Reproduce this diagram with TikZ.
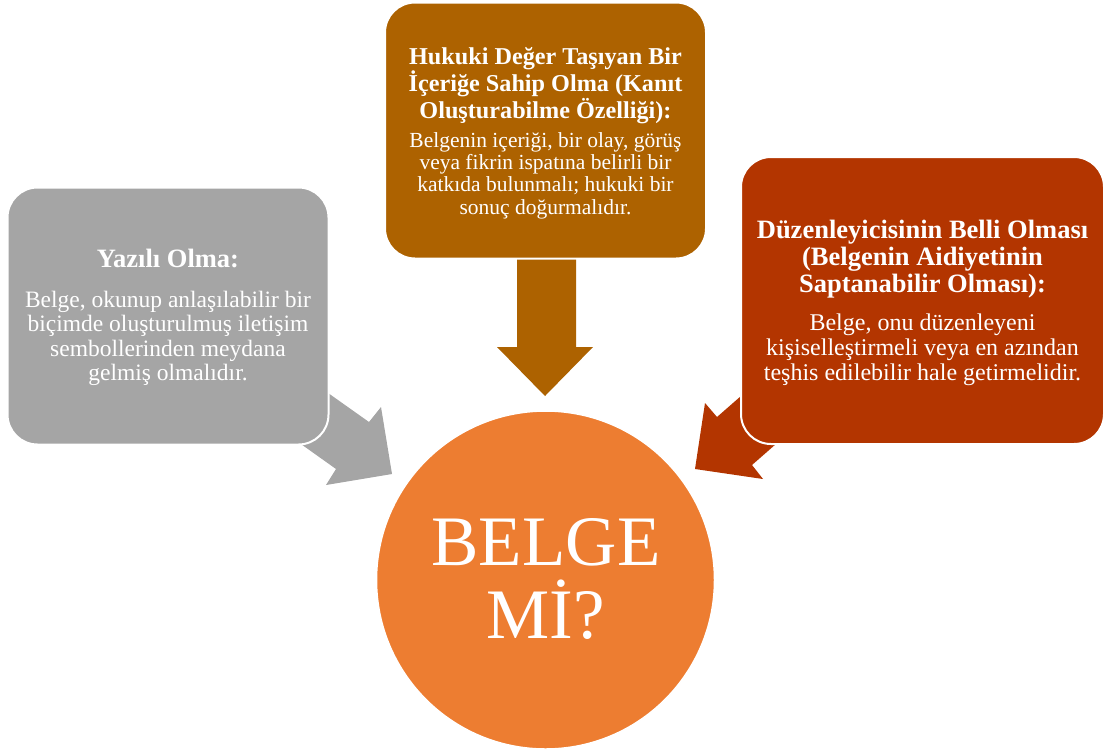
\documentclass[tikz,border=0pt]{standalone}
\usepackage{fontspec}
\setmainfont{Liberation Serif}
\definecolor{cgray}{HTML}{A5A5A5}
\definecolor{cbrown}{HTML}{AD6200}
\definecolor{cred}{HTML}{B33500}
\definecolor{corange}{HTML}{ED7D31}
\begin{document}
\begin{tikzpicture}[x=1pt,y=-1pt,
  card/.style={draw=white,line width=2pt,rounded corners=30pt,inner sep=0pt},
  ttl/.style={text=white,align=center,inner sep=0pt,anchor=north},
  blockarrow/.style={draw=none}]
\useasboundingbox (0,0) rectangle (1107,753);
% block arrows (behind the cards)
\fill[cgray,blockarrow] (290,366) -- (369,422) -- (381,407) -- (392,474) -- (326,485) -- (336,469) -- (270,422) -- cycle;
\fill[cbrown,blockarrow] (517,250) -- (576,250) -- (576,347) -- (593,347) -- (545,396) -- (497,347) -- (517,347) -- cycle;
\fill[cred,blockarrow] (757,382) -- (717,417) -- (705,403) -- (695,469) -- (763,479) -- (752,465) -- (792,430) -- cycle;
% cards
\node[card,fill=cgray,minimum width=321pt,minimum height=257pt] (yazili) at (168,316) {};
\node[card,fill=cbrown,minimum width=321pt,minimum height=256pt] (hukuki) at (545.5,130.5) {};
\node[card,fill=cred,minimum width=363pt,minimum height=287pt] (duzen) at (922.5,300.5) {};
% centre circle
\node[circle,draw=white,line width=1.5pt,fill=corange,minimum size=338pt,inner sep=0pt] (belge) at (545.5,580) {};
% texts
\node[ttl,font=\fontsize{26.5}{27}\selectfont\bfseries] (yazilit) at (168,248.7) {Yazılı Olma:};
\node[ttl,font=\fontsize{23.5}{24.5}\selectfont] (yazilib) at (168,290.5) {Belge, okunup anlaşılabilir bir\\biçimde oluşturulmuş iletişim\\sembollerinden meydana\\gelmiş olmalıdır.};
\node[ttl,font=\fontsize{24.2}{25}\selectfont\bfseries] (hukukit) at (545.5,47.3) {Hukuki Değer Taşıyan Bir\\İçeriğe Sahip Olma (Kanıt\\Oluşturabilme Özelliği):};
\node[ttl,font=\fontsize{21.5}{22.3}\selectfont] (hukukib) at (545.5,132.2) {Belgenin içeriği, bir olay, görüş\\veya fikrin ispatına belirli bir\\katkıda bulunmalı; hukuki bir\\sonuç doğurmalıdır.};
\node[ttl,font=\fontsize{26.5}{27}\selectfont\bfseries] (duzent) at (922.5,219.7) {Düzenleyicisinin Belli Olması\\(Belgenin Aidiyetinin\\Saptanabilir Olması):};
\node[ttl,font=\fontsize{24}{25}\selectfont] (duzenb) at (922.5,313.5) {Belge, onu düzenleyeni\\kişiselleştirmeli veya en azından\\teşhis edilebilir hale getirmelidir.};
\node[ttl,font=\fontsize{71}{73}\selectfont] (belget) at (546,518) {BELGE\\Mİ?};
\end{tikzpicture}
\end{document}
